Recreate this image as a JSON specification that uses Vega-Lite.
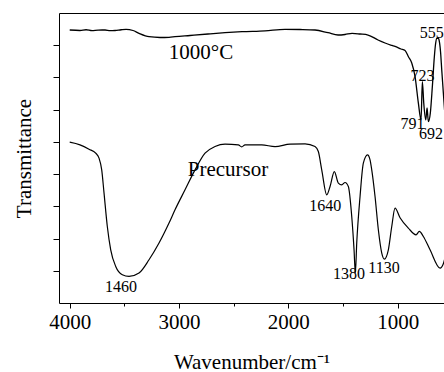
{
  "$schema": "https://vega.github.io/schema/vega-lite/v6.json",
  "width": 385,
  "height": 290,
  "autosize": "none",
  "padding": {"left": 59, "top": 13, "right": 0, "bottom": 69},
  "config": {
    "view": {"stroke": null},
    "font": "Liberation Serif",
    "axis": {"domainColor": "black", "tickColor": "black", "labelColor": "black", "titleColor": "black", "grid": false, "labelFont": "Liberation Serif", "titleFont": "Liberation Serif", "titleFontWeight": "normal"}
  },
  "datasets": {
    "fired": [
      {"wn": 4000, "t": 8.472}, {"wn": 3906, "t": 8.457}, {"wn": 3850, "t": 8.48}, {"wn": 3796, "t": 8.450}, {"wn": 3740, "t": 8.47}, {"wn": 3677, "t": 8.472},
      {"wn": 3630, "t": 8.45}, {"wn": 3585.5, "t": 8.457}, {"wn": 3530, "t": 8.48}, {"wn": 3485, "t": 8.494}, {"wn": 3421, "t": 8.457}, {"wn": 3366, "t": 8.370},
      {"wn": 3274.5, "t": 8.264}, {"wn": 3174, "t": 8.240}, {"wn": 3091.5, "t": 8.246}, {"wn": 3036.6, "t": 8.264}, {"wn": 2899.4, "t": 8.302},
      {"wn": 2734.7, "t": 8.348}, {"wn": 2579.2, "t": 8.388}, {"wn": 2423.6, "t": 8.419}, {"wn": 2213.2, "t": 8.447}, {"wn": 2030.2, "t": 8.494},
      {"wn": 1893, "t": 8.488}, {"wn": 1755.7, "t": 8.472}, {"wn": 1636.8, "t": 8.388}, {"wn": 1545.3, "t": 8.317}, {"wn": 1481.2, "t": 8.333},
      {"wn": 1417.2, "t": 8.370}, {"wn": 1344, "t": 8.348}, {"wn": 1270.8, "t": 8.317}, {"wn": 1179.4, "t": 8.162}, {"wn": 1115.3, "t": 8.069},
      {"wn": 1051.3, "t": 7.992}, {"wn": 1023.8, "t": 7.961}, {"wn": 969, "t": 7.883}, {"wn": 932.3, "t": 7.837}, {"wn": 900.3, "t": 7.635},
      {"wn": 871, "t": 7.449}, {"wn": 840.8, "t": 7.024}, {"wn": 810.7, "t": 6.209}, {"wn": 786, "t": 5.682}, {"wn": 774, "t": 6.869},
      {"wn": 761.3, "t": 6.209}, {"wn": 743, "t": 5.682}, {"wn": 731, "t": 6.054}, {"wn": 719.2, "t": 5.630}, {"wn": 700.9, "t": 5.899},
      {"wn": 682.6, "t": 6.714}, {"wn": 664.3, "t": 7.644}, {"wn": 653.3, "t": 8.038}, {"wn": 642.3, "t": 8.215}, {"wn": 630.4, "t": 8.224},
      {"wn": 621.3, "t": 8.162}, {"wn": 607.5, "t": 7.790}, {"wn": 596.6, "t": 7.232}, {"wn": 582, "t": 6.519}, {"wn": 571, "t": 5.992}
    ],
    "precursor": [
      {"wn": 4000, "t": 4.991}, {"wn": 3906, "t": 4.907}, {"wn": 3823.4, "t": 4.774}, {"wn": 3762.1, "t": 4.650}, {"wn": 3731.9, "t": 4.495},
      {"wn": 3707.2, "t": 4.132}, {"wn": 3686.2, "t": 3.419}, {"wn": 3656, "t": 2.375}, {"wn": 3624.9, "t": 1.652}, {"wn": 3579.1, "t": 1.135},
      {"wn": 3518.8, "t": 0.878}, {"wn": 3457.5, "t": 0.825}, {"wn": 3366, "t": 0.930}, {"wn": 3274.5, "t": 1.342}, {"wn": 3183, "t": 1.860},
      {"wn": 3091.5, "t": 2.480}, {"wn": 3036.6, "t": 2.892}, {"wn": 2945.1, "t": 3.512}, {"wn": 2853.6, "t": 4.132}, {"wn": 2762.1, "t": 4.650},
      {"wn": 2670.7, "t": 4.855}, {"wn": 2579.2, "t": 4.929}, {"wn": 2457.5, "t": 4.907}, {"wn": 2426.4, "t": 4.845}, {"wn": 2396.2, "t": 4.907},
      {"wn": 2243.4, "t": 4.907}, {"wn": 2121.7, "t": 4.855}, {"wn": 1984.5, "t": 4.929}, {"wn": 1847.2, "t": 4.938}, {"wn": 1755.7, "t": 4.855},
      {"wn": 1725.6, "t": 4.700}, {"wn": 1694.5, "t": 4.132}, {"wn": 1648.7, "t": 3.357}, {"wn": 1618.5, "t": 3.615}, {"wn": 1579.2, "t": 4.080},
      {"wn": 1542.6, "t": 3.720}, {"wn": 1511.5, "t": 3.667}, {"wn": 1481.2, "t": 3.739}, {"wn": 1451.1, "t": 3.615}, {"wn": 1420, "t": 2.685},
      {"wn": 1398.9, "t": 1.652}, {"wn": 1387, "t": 0.930}, {"wn": 1374.2, "t": 1.869}, {"wn": 1344, "t": 3.305}, {"wn": 1313.9, "t": 4.340},
      {"wn": 1275.5, "t": 4.597}, {"wn": 1252.6, "t": 4.442}, {"wn": 1237, "t": 4.132}, {"wn": 1206.8, "t": 3.305}, {"wn": 1176.6, "t": 2.272},
      {"wn": 1145.5, "t": 1.550}, {"wn": 1121.7, "t": 1.364}, {"wn": 1085.1, "t": 1.652}, {"wn": 1054, "t": 2.375}, {"wn": 1023.8, "t": 2.945},
      {"wn": 978.1, "t": 2.644}, {"wn": 902.1, "t": 2.325}, {"wn": 831.7, "t": 2.117}, {"wn": 801.5, "t": 2.220}, {"wn": 764.9, "t": 2.065},
      {"wn": 703.6, "t": 1.652}, {"wn": 612.1, "t": 1.085}, {"wn": 582, "t": 1.218}, {"wn": 567, "t": 1.404}
    ],
    "peaks": [
      {"wn": 3531, "t": 0.505, "label": "1460"},
      {"wn": 1661.5, "t": 3.016, "label": "1640"},
      {"wn": 1444.7, "t": 0.908, "label": "1380"},
      {"wn": 1124.5, "t": 1.094, "label": "1130"},
      {"wn": 863.7, "t": 5.558, "label": "791"},
      {"wn": 694.5, "t": 5.248, "label": "692"},
      {"wn": 772.2, "t": 7.046, "label": "723"},
      {"wn": 688, "t": 8.394, "label": "555"}
    ],
    "samples": [
      {"wn": 2798.7, "t": 7.759, "label": "1000°C"},
      {"wn": 2551.7, "t": 4.117, "label": "Precursor"}
    ]
  },
  "layer": [
    {
      "data": {"name": "fired"},
      "mark": {"type": "line", "color": "black", "strokeWidth": 1.3, "clip": true, "interpolate": "monotone"},
      "encoding": {
        "x": {"field": "wn", "type": "quantitative", "scale": {"domain": [4098, 576], "nice": false, "zero": false},
          "axis": {"orient": "bottom", "values": [4000, 3500, 3000, 2500, 2000, 1500, 1000],
            "labelExpr": "datum.value % 1000 === 0 ? datum.label : ''",
            "format": "d",
            "tickSize": {"condition": {"test": "datum.value % 1000 === 0", "value": 5}, "value": 3},
            "labelFontSize": 21, "labelPadding": 3, "labelFlush": false,
            "title": "Wavenumber/cm⁻¹", "titleFontSize": 21, "titleY": 65, "titleBaseline": "alphabetic"}},
        "y": {"field": "t", "type": "quantitative", "scale": {"domain": [0, 9], "nice": false, "zero": false},
          "axis": {"values": [1, 2, 3, 4, 5, 6, 7, 8], "labels": false, "tickSize": 6,
            "title": "Transmittance", "titleFontSize": 21, "titleX": -29, "titleY": 145, "titleAngle": -90, "titleBaseline": "alphabetic", "titleAlign": "center"}},
        "order": {"field": "wn", "sort": "descending"}
      }
    },
    {
      "data": {"name": "precursor"},
      "mark": {"type": "line", "color": "black", "strokeWidth": 1.2, "clip": true, "interpolate": "monotone"},
      "encoding": {
        "x": {"field": "wn", "type": "quantitative", "axis": {"orient": "top", "ticks": false, "labels": false, "title": null}},
        "y": {"field": "t", "type": "quantitative", "axis": null},
        "order": {"field": "wn", "sort": "descending"}
      }
    },
    {
      "data": {"name": "peaks"},
      "mark": {"type": "text", "font": "Liberation Serif", "fontSize": 16, "color": "black", "baseline": "middle", "align": "center"},
      "encoding": {
        "x": {"field": "wn", "type": "quantitative", "axis": null},
        "y": {"field": "t", "type": "quantitative", "axis": null},
        "text": {"field": "label"}
      }
    },
    {
      "data": {"name": "samples"},
      "mark": {"type": "text", "font": "Liberation Serif", "fontSize": 21, "color": "black", "baseline": "middle", "align": "center"},
      "encoding": {
        "x": {"field": "wn", "type": "quantitative", "axis": null},
        "y": {"field": "t", "type": "quantitative", "axis": null},
        "text": {"field": "label"}
      }
    }
  ],
  "resolve": {"axis": {"x": "independent", "y": "independent"}}
}
